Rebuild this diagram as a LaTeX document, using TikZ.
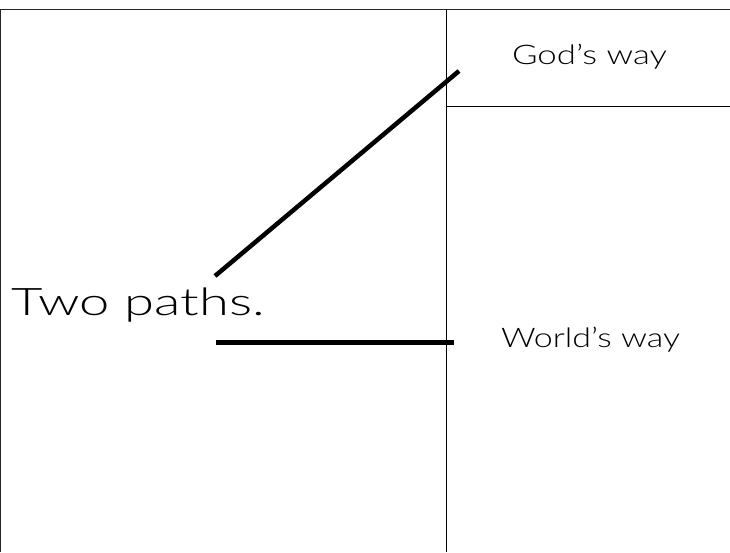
\documentclass[tikz,border=0pt]{standalone}
\usepackage{fontspec}
\setmainfont{Lato}[UprightFont=* Light]
\begin{document}
\begin{tikzpicture}[x=1pt,y=-1pt,
  frame/.style={draw=black!85,line width=1pt},
  thin/.style={draw=black,line width=0.9pt},
  path/.style={draw=black,line width=4.5pt},
  lbl/.style={anchor=base west,inner sep=0pt,outer sep=0pt,text=black}]
\useasboundingbox (0,0) rectangle (730,552);
\draw[frame] (730,9.5) -- (0.5,9.5) -- (0.5,552);
\draw[thin] (446.3,9.5) -- (446.3,552);
\draw[thin] (446.3,106) -- (730,106);
\node[lbl,font=\fontsize{38}{40}\selectfont,xscale=1.43] (two) at (12,315) {Two paths.};
\node[lbl,font=\fontsize{27}{30}\selectfont,xscale=1.29] (god) at (512,64) {God’s way};
\node[lbl,font=\fontsize{27}{30}\selectfont,xscale=1.26] (world) at (501,347) {World’s way};
\coordinate (d1) at (215,276);
\coordinate (d2) at (459,71);
\coordinate (h1) at (216,342.5);
\coordinate (h2) at (454,342.5);
\draw[path] (d1) -- (d2);
\draw[path] (h1) -- (h2);
\end{tikzpicture}
\end{document}
